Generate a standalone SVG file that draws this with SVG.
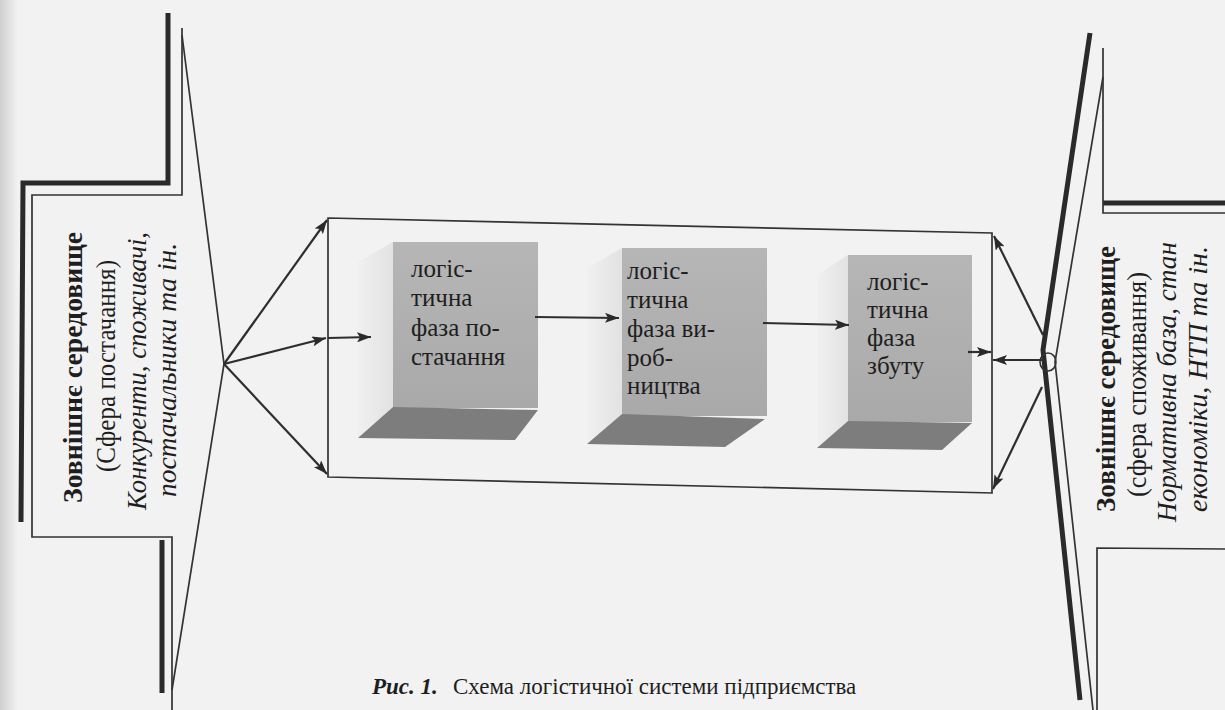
<svg xmlns="http://www.w3.org/2000/svg" width="1225" height="710" viewBox="0 0 1225 710">
  <style>
    .thin { fill: none; stroke: #333; stroke-width: 1.7; stroke-linejoin: miter; }
    .thick { fill: none; stroke: #2a2a2a; stroke-width: 5; stroke-linecap: butt; }
    .con { fill: none; stroke: #2e2e2e; stroke-width: 2.2; }
    .arr { marker-end: url(#ah); }
    .cube-t { font-family: "Liberation Serif", "Times New Roman", serif; font-size: 25px; fill: #1e1e1e; }
    .side { font-family: "Liberation Serif", "Times New Roman", serif; font-size: 27px; fill: #1e1e1e; }
    .b { font-weight: bold; }
    .i { font-style: italic; }
    .panel { fill: url(#pg); }
    .floor { fill: #7d7d7d; }
    .wall { fill: url(#wg); }
  </style>
  <defs>
    <marker id="ah" markerUnits="userSpaceOnUse" markerWidth="14" markerHeight="10" refX="14" refY="5" orient="auto">
      <path d="M0,0 L14,5 L0,10 L3,5 z" fill="#2a2a2a"/>
    </marker>
    <linearGradient id="pg" x1="0" y1="0" x2="0" y2="1">
      <stop offset="0" stop-color="#b6b6b6"/>
      <stop offset="1" stop-color="#a9a9a9"/>
    </linearGradient>
    <linearGradient id="wg" x1="0" y1="0" x2="1" y2="0">
      <stop offset="0" stop-color="#f0f0f0"/>
      <stop offset="1" stop-color="#e2e2e2"/>
    </linearGradient>
    <linearGradient id="edge" x1="0" y1="0" x2="1" y2="0">
      <stop offset="0" stop-color="#cfcfcf"/>
      <stop offset="1" stop-color="#f2f2f2"/>
    </linearGradient>
  </defs>

  <rect x="0" y="0" width="1225" height="710" fill="#f2f2f2"/>
  <rect x="0" y="0" width="18" height="710" fill="url(#edge)"/>

  <g id="env-left">
    <path class="thick" d="M168,13 L168,183 L23,183 L21,522"/>
    <path class="thick" d="M162,540 L162,693"/>
    <path class="thin" d="M182,28 L182,195 L32,195 L32,537 L172,537 L172,710"/>
    <path class="thin" d="M182,35 L224,364 L172,690"/>
    <text class="side b" transform="translate(82,503) rotate(-90)" textLength="271" lengthAdjust="spacingAndGlyphs">Зовнішнє середовище</text>
    <text class="side" transform="translate(115,472) rotate(-90)" textLength="212" lengthAdjust="spacingAndGlyphs">(Сфера постачання)</text>
    <text class="side i" transform="translate(146,510) rotate(-90)" textLength="278" lengthAdjust="spacingAndGlyphs">Конкуренти, споживачі,</text>
    <text class="side i" transform="translate(176,497) rotate(-90)" textLength="254" lengthAdjust="spacingAndGlyphs">постачальники та ін.</text>
  </g>

  <g id="env-right">
    <path class="thick" d="M1090,33 L1043,350 L1080,700"/>
    <path class="thick" d="M1103,203 L1225,203"/>
    <path class="thin" d="M1103,48 L1103,213 L1225,213"/>
    <path class="thin" d="M1225,549 L1097,548 L1097,710"/>
    <path class="thin" d="M1103,77 L1055,362 L1093,710"/>
    <ellipse cx="1048" cy="362" rx="8" ry="9" fill="none" stroke="#333" stroke-width="1.6"/>
    <text class="side b" transform="translate(1115,512) rotate(-90)" textLength="266" lengthAdjust="spacingAndGlyphs">Зовнішнє середовище</text>
    <text class="side" transform="translate(1146,497) rotate(-90)" textLength="225" lengthAdjust="spacingAndGlyphs">(сфера споживання)</text>
    <text class="side i" transform="translate(1176,522) rotate(-90)" textLength="280" lengthAdjust="spacingAndGlyphs">Нормативна база, стан</text>
    <text class="side i" transform="translate(1207,512) rotate(-90)" textLength="266" lengthAdjust="spacingAndGlyphs">економіки, НТП та ін.</text>
  </g>

  <g id="system-box">
    <polygon class="thin" points="328,218 992,233 992,493 328,477"/>
  </g>

  <g id="phase-supply">
    <polygon class="wall" points="358,262 393,242 393,407 358,438"/>
    <rect class="panel" x="393" y="242" width="145" height="166"/>
    <polygon class="floor" points="393,407 538,410 515,440 358,438"/>
    <text class="cube-t" x="411" y="277">логіс-</text>
    <text class="cube-t" x="411" y="306">тична</text>
    <text class="cube-t" x="411" y="336">фаза по-</text>
    <text class="cube-t" x="411" y="365">стачання</text>
  </g>

  <g id="phase-production">
    <polygon class="wall" points="587,268 622,248 622,414 587,444"/>
    <rect class="panel" x="622" y="248" width="145" height="168"/>
    <polygon class="floor" points="622,414 765,419 725,447 587,444"/>
    <text class="cube-t" x="627" y="279">логіс-</text>
    <text class="cube-t" x="627" y="308">тична</text>
    <text class="cube-t" x="627" y="337">фаза ви-</text>
    <text class="cube-t" x="627" y="366">роб-</text>
    <text class="cube-t" x="627" y="394">ництва</text>
  </g>

  <g id="phase-sales">
    <polygon class="wall" points="817,275 848,255 848,421 817,448"/>
    <rect class="panel" x="848" y="255" width="124" height="167"/>
    <polygon class="floor" points="848,421 972,423 942,450 817,448"/>
    <text class="cube-t" x="867" y="290">логіс-</text>
    <text class="cube-t" x="867" y="318">тична</text>
    <text class="cube-t" x="867" y="346">фаза</text>
    <text class="cube-t" x="867" y="374">збуту</text>
  </g>

  <g id="connectors">
    <line class="con arr" x1="224" y1="364" x2="327" y2="220"/>
    <line class="con arr" x1="224" y1="364" x2="326" y2="338"/>
    <line class="con arr" x1="224" y1="364" x2="327" y2="474"/>
    <line class="con arr" x1="328" y1="338" x2="371" y2="337"/>
    <line class="con arr" x1="535" y1="317" x2="619" y2="318"/>
    <line class="con arr" x1="763" y1="323" x2="849" y2="325"/>
    <line class="con arr" x1="968" y1="352" x2="991" y2="352"/>
    <line class="con arr" x1="1044" y1="360" x2="993" y2="360"/>
    <line class="con arr" x1="1043" y1="335" x2="994" y2="236"/>
    <line class="con arr" x1="1042" y1="387" x2="993" y2="489"/>
  </g>

  <g id="caption">
    <text x="372" y="694" font-family="Liberation Serif, serif" font-size="23" fill="#1e1e1e"><tspan font-weight="bold" font-style="italic">Рис. 1.</tspan><tspan x="453">Схема логістичної системи підприємства</tspan></text>
  </g>
</svg>
